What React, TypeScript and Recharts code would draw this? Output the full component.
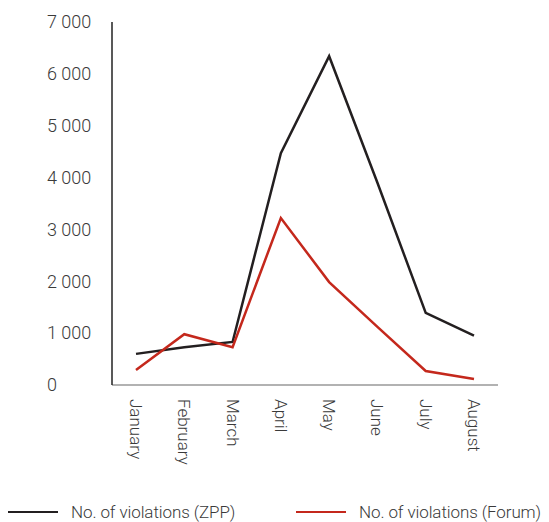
import { CartesianGrid, Legend, Line, LineChart, XAxis, YAxis } from 'recharts'

const months = ['January', 'February', 'March', 'April', 'May', 'June', 'July', 'August']
const zppValues = [600, 730, 830, 4470, 6340, 3900, 1390, 950]
const forumValues = [290, 980, 730, 3220, 1985, 1120, 270, 115]
const yTicks = [0, 1000, 2000, 3000, 4000, 5000, 6000, 7000]
const seriesOrder = ['zpp', 'forum']

const data = months.map((month, i) => ({
  month,
  zpp: zppValues[i],
  forum: forumValues[i],
}))

const FONT = 'Roboto, "Open Sans", sans-serif'
const TEXT = '#3a3a3a'

const fmt = (v: number) => (v >= 1000 ? `${Math.floor(v / 1000)} ${String(v % 1000).padStart(3, '0')}` : String(v))

function YTick({ y, payload }: any) {
  return (
    <text x={47} y={y} dy="0.35em" textAnchor="start" fill={TEXT} fontSize={18} fontWeight={300} fontFamily={FONT}>
      {fmt(payload.value)}
    </text>
  )
}

function XTick({ x, y, payload }: any) {
  return (
    <text
      transform={`translate(${x},${y + 6}) rotate(90)`}
      dy="0.35em"
      textAnchor="start"
      fill={TEXT}
      fontSize={17}
      fontWeight={300}
      fontFamily={FONT}
    >
      {payload.value}
    </text>
  )
}

function LegendContent({ payload }: any) {
  const items = [...(payload || [])].sort(
    (a: any, b: any) => seriesOrder.indexOf(a.dataKey) - seriesOrder.indexOf(b.dataKey)
  )
  return (
    <div
      style={{
        position: 'relative',
        height: 30,
        fontFamily: FONT,
        fontWeight: 300,
        fontSize: 17,
        letterSpacing: -0.1,
        color: TEXT,
      }}
    >
      {items.map((p: any, i: number) => (
        <div
          key={p.value}
          style={{
            position: 'absolute',
            left: i === 0 ? 8 : 296,
            top: 10,
            display: 'flex',
            alignItems: 'center',
            whiteSpace: 'nowrap',
          }}
        >
          <span style={{ display: 'inline-block', width: 50, height: 2.5, background: p.color, marginRight: 13 }} />
          <span>{p.value}</span>
        </div>
      ))}
    </div>
  )
}

export default function App() {
  return (
    <div style={{ position: 'absolute', left: 0, top: 0, width: 549, height: 522, background: '#fff' }}>
      <LineChart width={549} height={522} data={data} margin={{ top: 22, right: 51, left: 0, bottom: 0 }}>
        <CartesianGrid stroke="none" />
        <XAxis
          dataKey="month"
          height={107}
          interval={0}
          tickLine={false}
          stroke="#999"
          strokeWidth={1.5}
          padding={{ left: 24, right: 24 }}
          tick={<XTick />}
        />
        <YAxis
          width={112}
          domain={[0, 7000]}
          ticks={yTicks}
          tickLine={false}
          stroke="#222"
          strokeWidth={1.5}
          tick={<YTick />}
        />
        <Legend verticalAlign="bottom" height={30} content={<LegendContent />} />
        <Line
          dataKey="zpp"
          name="No. of violations (ZPP)"
          stroke="#231f20"
          strokeWidth={2.5}
          dot={false}
          isAnimationActive={false}
        />
        <Line
          dataKey="forum"
          name="No. of violations (Forum)"
          stroke="#c4281c"
          strokeWidth={2.5}
          dot={false}
          isAnimationActive={false}
        />
      </LineChart>
    </div>
  )
}
